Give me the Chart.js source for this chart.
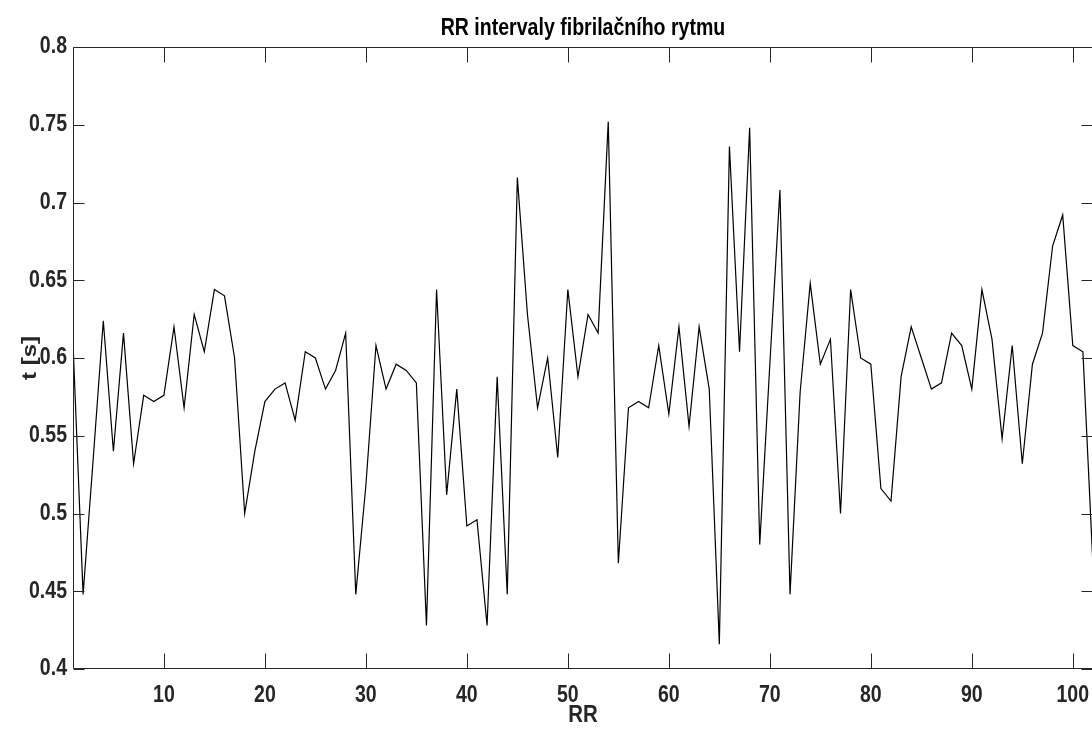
<!DOCTYPE html>
<html><head><meta charset="utf-8">
<script src="https://cdn.jsdelivr.net/npm/chart.js@4"></script>
<style>html,body{margin:0;padding:0;overflow:hidden;background:#fff;width:1092px;height:745px}canvas{display:block}</style>
</head><body>
<canvas id="c" width="1100" height="745" style="width:1100px;height:745px"></canvas>
<script>
const titleText = 'RR intervaly fibrilačního rytmu';
const xAxisLabel = 'RR';
const yAxisLabel = 't [s]';
const xTicks = [10, 20, 30, 40, 50, 60, 70, 80, 90, 100];
const yTicks = [0.4, 0.45, 0.5, 0.55, 0.6, 0.65, 0.7, 0.75, 0.8];
const yTickLabels = ['0.4', '0.45', '0.5', '0.55', '0.6', '0.65', '0.7', '0.75', '0.8'];
const rrValues = [
  0.610, 0.448, 0.535, 0.624, 0.540, 0.616, 0.532, 0.576, 0.572, 0.576,
  0.620, 0.568, 0.628, 0.604, 0.644, 0.640, 0.600, 0.500, 0.540, 0.572,
  0.580, 0.584, 0.560, 0.604, 0.600, 0.580, 0.592, 0.616, 0.448, 0.518,
  0.608, 0.580, 0.596, 0.592, 0.584, 0.428, 0.644, 0.512, 0.580, 0.492,
  0.496, 0.428, 0.588, 0.448, 0.716, 0.628, 0.568, 0.600, 0.536, 0.644,
  0.588, 0.628, 0.616, 0.752, 0.468, 0.568, 0.572, 0.568, 0.608, 0.564,
  0.620, 0.556, 0.620, 0.580, 0.416, 0.736, 0.604, 0.748, 0.480, 0.596,
  0.708, 0.448, 0.578, 0.648, 0.596, 0.612, 0.500, 0.644, 0.600, 0.596,
  0.516, 0.508, 0.588, 0.620, 0.600, 0.580, 0.584, 0.616, 0.608, 0.580,
  0.644, 0.612, 0.548, 0.608, 0.532, 0.596, 0.616, 0.672, 0.692, 0.608,
  0.604, 0.466
];
const xMin = 1, xMax = 102, yMin = 0.4, yMax = 0.8;

const FONT = '"Liberation Sans", Arial, Helvetica, sans-serif';
const AXIS_COLOR = '#262626';

// The reference figure is stretched vertically: horizontal text looks condensed,
// vertical (rotated) text looks elongated. Reproduce that on the text drawing.
const canvas = document.getElementById('c');
const ctx2d = canvas.getContext('2d');
const origFillText = ctx2d.fillText.bind(ctx2d);
ctx2d.fillText = function (text, x, y, maxWidth) {
  const m = this.getTransform();
  const rotated = Math.abs(m.b) > 0.5;
  const sx = rotated ? 1.2 : 0.85;
  this.save();
  this.translate(x, y);
  this.scale(sx, 1);
  if (maxWidth !== undefined) origFillText(text, 0, 0, maxWidth / sx);
  else origFillText(text, 0, 0);
  this.restore();
};

const boxPlugin = {
  id: 'matlabBox',
  afterDatasetsDraw(chart) {
    const {ctx, chartArea, scales} = chart;
    const L = Math.round(chartArea.left) + 0.5, R = Math.round(chartArea.right) - 0.5;
    const T = Math.round(chartArea.top) + 0.5, B = Math.round(chartArea.bottom) - 0.5;
    ctx.save();
    ctx.strokeStyle = AXIS_COLOR;
    ctx.lineWidth = 1;
    ctx.beginPath();
    ctx.rect(L, T, R - L, B - T);
    xTicks.forEach(v => {
      const px = Math.round(scales.x.getPixelForValue(v)) + 0.5;
      ctx.moveTo(px, B); ctx.lineTo(px, B - 15);
      ctx.moveTo(px, T); ctx.lineTo(px, T + 15);
    });
    yTicks.forEach(v => {
      const py = Math.round(scales.y.getPixelForValue(v)) + 0.5;
      ctx.moveTo(L, py); ctx.lineTo(L + 11, py);
      ctx.moveTo(R, py); ctx.lineTo(R - 11, py);
    });
    ctx.stroke();
    ctx.restore();
  }
};

new Chart(canvas, {
  type: 'line',
  data: {
    datasets: [{
      data: rrValues.map((v, i) => ({x: i + 1, y: v})),
      borderColor: '#000000',
      borderWidth: 1.2,
      pointRadius: 0,
      tension: 0,
      fill: false
    }]
  },
  options: {
    responsive: false,
    animation: false,
    layout: {padding: {left: 0, right: 7, top: 0, bottom: 0}},
    plugins: {
      legend: {display: false},
      tooltip: {enabled: false},
      title: {
        display: true,
        fullSize: false,
        text: titleText,
        color: '#000000',
        font: {family: FONT, size: 23, weight: 'bold'},
        padding: {top: 15, bottom: 4.4}
      }
    },
    scales: {
      x: {
        type: 'linear',
        min: xMin, max: xMax,
        afterBuildTicks: s => { s.ticks = xTicks.map(v => ({value: v})); },
        afterFit: s => { s.height = 76; s.paddingLeft = 0; s.paddingRight = 0; },
        grid: {display: false, drawTicks: false},
        border: {display: false},
        ticks: {color: AXIS_COLOR, font: {family: FONT, size: 23, weight: 'bold'}, padding: 13, maxRotation: 0, autoSkip: false},
        title: {display: true, text: xAxisLabel, color: AXIS_COLOR, font: {family: FONT, size: 24, weight: 'bold'}, padding: {top: 0, bottom: 15}}
      },
      y: {
        type: 'linear',
        min: yMin, max: yMax,
        afterBuildTicks: s => { s.ticks = yTicks.map(v => ({value: v})); },
        afterFit: s => { s.width = 73; s.paddingTop = 0; s.paddingBottom = 0; },
        grid: {display: false, drawTicks: false},
        border: {display: false},
        ticks: {
          color: AXIS_COLOR, font: {family: FONT, size: 23, weight: 'bold'}, padding: 6, autoSkip: false,
          callback: v => { const k = yTicks.findIndex(t => Math.abs(t - v) < 1e-9); return k >= 0 ? yTickLabels[k] : ''; }
        },
        title: {display: true, text: yAxisLabel, color: AXIS_COLOR, font: {family: FONT, size: 20, weight: 'bold'}, padding: {top: 18, bottom: 0}}
      }
    }
  },
  plugins: [boxPlugin]
});
</script>
</body></html>
